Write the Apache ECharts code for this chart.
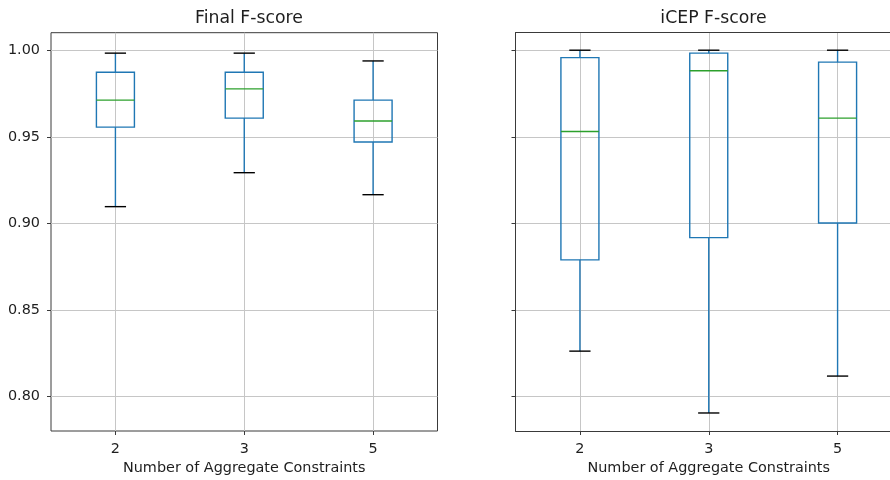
<!DOCTYPE html>
<html>
<head>
<meta charset="utf-8">
<script src="https://cdn.jsdelivr.net/npm/echarts@6/dist/echarts.min.js"></script>
<style>
  html, body { margin: 0; padding: 0; background: #ffffff; }
  #chart { width: 890px; height: 480px; }
</style>
</head>
<body>
<div id="chart"></div>
<script>
// Category labels along the x axis
const categories = ['2', '3', '5'];
// Box positions on the x value axis (one per category)
const positions = [1, 2, 3];
// Labelled y ticks
const yTicks = [0.80, 0.85, 0.90, 0.95, 1.00];

// Each row: [lower whisker, Q1, median, Q3, upper whisker]
const finalScore = [
  [0.9097, 0.9556, 0.9712, 0.9873, 0.9983],
  [0.9293, 0.9608, 0.9777, 0.9873, 0.9983],
  [0.9166, 0.9470, 0.9591, 0.9712, 0.9938]
];
const icepScore = [
  [0.8263, 0.8790, 0.9531, 0.9957, 1.0000],
  [0.7906, 0.8918, 0.9881, 0.9983, 1.0000],
  [0.8119, 0.9003, 0.9608, 0.9931, 1.0000]
];

const BLUE = '#1f77b4';
const GREEN = '#2ca02c';
const CAP = '#000000';
const LW = 1.4;
const TEXT = '#1e1e1e';
const GRIDLINE = '#c6c6c6';
const FRAME = '#3a3a3a';
const FONT = 'DejaVu Sans';

// Panel geometry: both panels share the same x scale (px per unit)
const PANEL_W = 386.5;
const RIGHT_LEFT = 515.5;
const CANVAS_W = 890;
const UNIT_PX = PANEL_W / 3;
// the right panel is cut by the canvas edge, so its visible x range ends early
const rightXMax = 0.5 + (CANVAS_W - RIGHT_LEFT) / UNIT_PX;

function renderBox(params, api) {
  const pos = api.value(0);
  const lo = api.coord([pos, api.value(1)]);
  const q1 = api.coord([pos, api.value(2)]);
  const med = api.coord([pos, api.value(3)]);
  const q3 = api.coord([pos, api.value(4)]);
  const hi = api.coord([pos, api.value(5)]);
  const unit = api.size([1, 0])[0];
  const bw = unit * 0.295;
  const cw = unit * 0.165;
  const x = lo[0];
  const line = (x1, y1, x2, y2, color) => ({
    type: 'line',
    shape: { x1: x1, y1: y1, x2: x2, y2: y2 },
    style: { stroke: color, lineWidth: LW }
  });
  return {
    type: 'group',
    children: [
      line(x, q1[1], x, lo[1], BLUE),
      line(x, q3[1], x, hi[1], BLUE),
      {
        type: 'rect',
        shape: { x: x - bw / 2, y: q3[1], width: bw, height: q1[1] - q3[1] },
        style: { stroke: BLUE, fill: null, lineWidth: LW }
      },
      line(x - bw / 2, med[1], x + bw / 2, med[1], GREEN),
      line(x - cw / 2, lo[1], x + cw / 2, lo[1], CAP),
      line(x - cw / 2, hi[1], x + cw / 2, hi[1], CAP)
    ]
  };
}

function xAxis(gridIndex, max, namePadLeft, showLine) {
  return {
    type: 'value',
    gridIndex: gridIndex,
    position: 'bottom',
    min: 0.5,
    max: max,
    name: 'Number of Aggregate Constraints',
    nameLocation: 'middle',
    nameGap: 30,
    nameTextStyle: { fontFamily: FONT, fontSize: 14.4, color: TEXT, padding: [0, 0, 0, namePadLeft] },
    axisLine: { show: showLine, onZero: false, lineStyle: { color: FRAME, width: 1 } },
    axisTick: { show: true, length: 4, customValues: positions, lineStyle: { color: FRAME, width: 1 } },
    axisLabel: {
      show: true,
      customValues: positions,
      margin: 11,
      fontFamily: FONT,
      fontSize: 14.4,
      color: TEXT,
      formatter: v => categories[Math.round(v) - 1] || ''
    },
    splitLine: { show: true, lineStyle: { color: GRIDLINE, width: 1 } }
  };
}

function yAxis(gridIndex, showLabels, showLine) {
  return {
    type: 'value',
    gridIndex: gridIndex,
    position: 'left',
    min: 0.7802,
    max: 1.0101,
    axisLine: { show: showLine, onZero: false, lineStyle: { color: FRAME, width: 1 } },
    axisTick: { show: true, length: 4, customValues: yTicks, lineStyle: { color: FRAME, width: 1 } },
    axisLabel: {
      show: showLabels,
      customValues: yTicks,
      margin: 11,
      fontFamily: FONT,
      fontSize: 14.4,
      color: TEXT,
      formatter: v => v.toFixed(2)
    },
    splitLine: { show: true, lineStyle: { color: GRIDLINE, width: 1 } }
  };
}

const chart = echarts.init(document.getElementById('chart'), null, { renderer: 'canvas' });

chart.setOption({
  backgroundColor: '#ffffff',
  animation: false,
  title: [
    {
      text: 'Final F-score', left: 244, top: 5, textAlign: 'center',
      textStyle: { fontFamily: FONT, fontSize: 17.3, fontWeight: 'normal', color: TEXT }
    },
    {
      text: 'iCEP F-score', left: 708.5, top: 5, textAlign: 'center',
      textStyle: { fontFamily: FONT, fontSize: 17.3, fontWeight: 'normal', color: TEXT }
    }
  ],
  grid: [
    { left: 51, top: 32.7, width: PANEL_W, height: 399, show: true, borderColor: FRAME, borderWidth: 1, backgroundColor: 'transparent' },
    { left: RIGHT_LEFT, top: 32.7, right: 0, height: 399, show: false }
  ],
  xAxis: [
    xAxis(0, 3.5, 0, false),
    xAxis(1, rightXMax, (PANEL_W - (CANVAS_W - RIGHT_LEFT)), true),
    // top frame edge of the right panel
    {
      type: 'value', gridIndex: 1, position: 'top', min: 0.5, max: rightXMax,
      axisLine: { show: true, onZero: false, lineStyle: { color: FRAME, width: 1 } },
      axisTick: { show: false }, axisLabel: { show: false }, splitLine: { show: false }
    }
  ],
  yAxis: [yAxis(0, true, false), yAxis(1, false, true)],
  series: [
    {
      name: 'Final F-score',
      type: 'custom',
      xAxisIndex: 0,
      yAxisIndex: 0,
      renderItem: renderBox,
      encode: { x: 0, y: [1, 2, 3, 4, 5] },
      data: finalScore.map((d, i) => [positions[i]].concat(d)),
      z: 10
    },
    {
      name: 'iCEP F-score',
      type: 'custom',
      xAxisIndex: 1,
      yAxisIndex: 1,
      renderItem: renderBox,
      encode: { x: 0, y: [1, 2, 3, 4, 5] },
      data: icepScore.map((d, i) => [positions[i]].concat(d)),
      z: 10
    }
  ]
});
</script>
</body>
</html>
